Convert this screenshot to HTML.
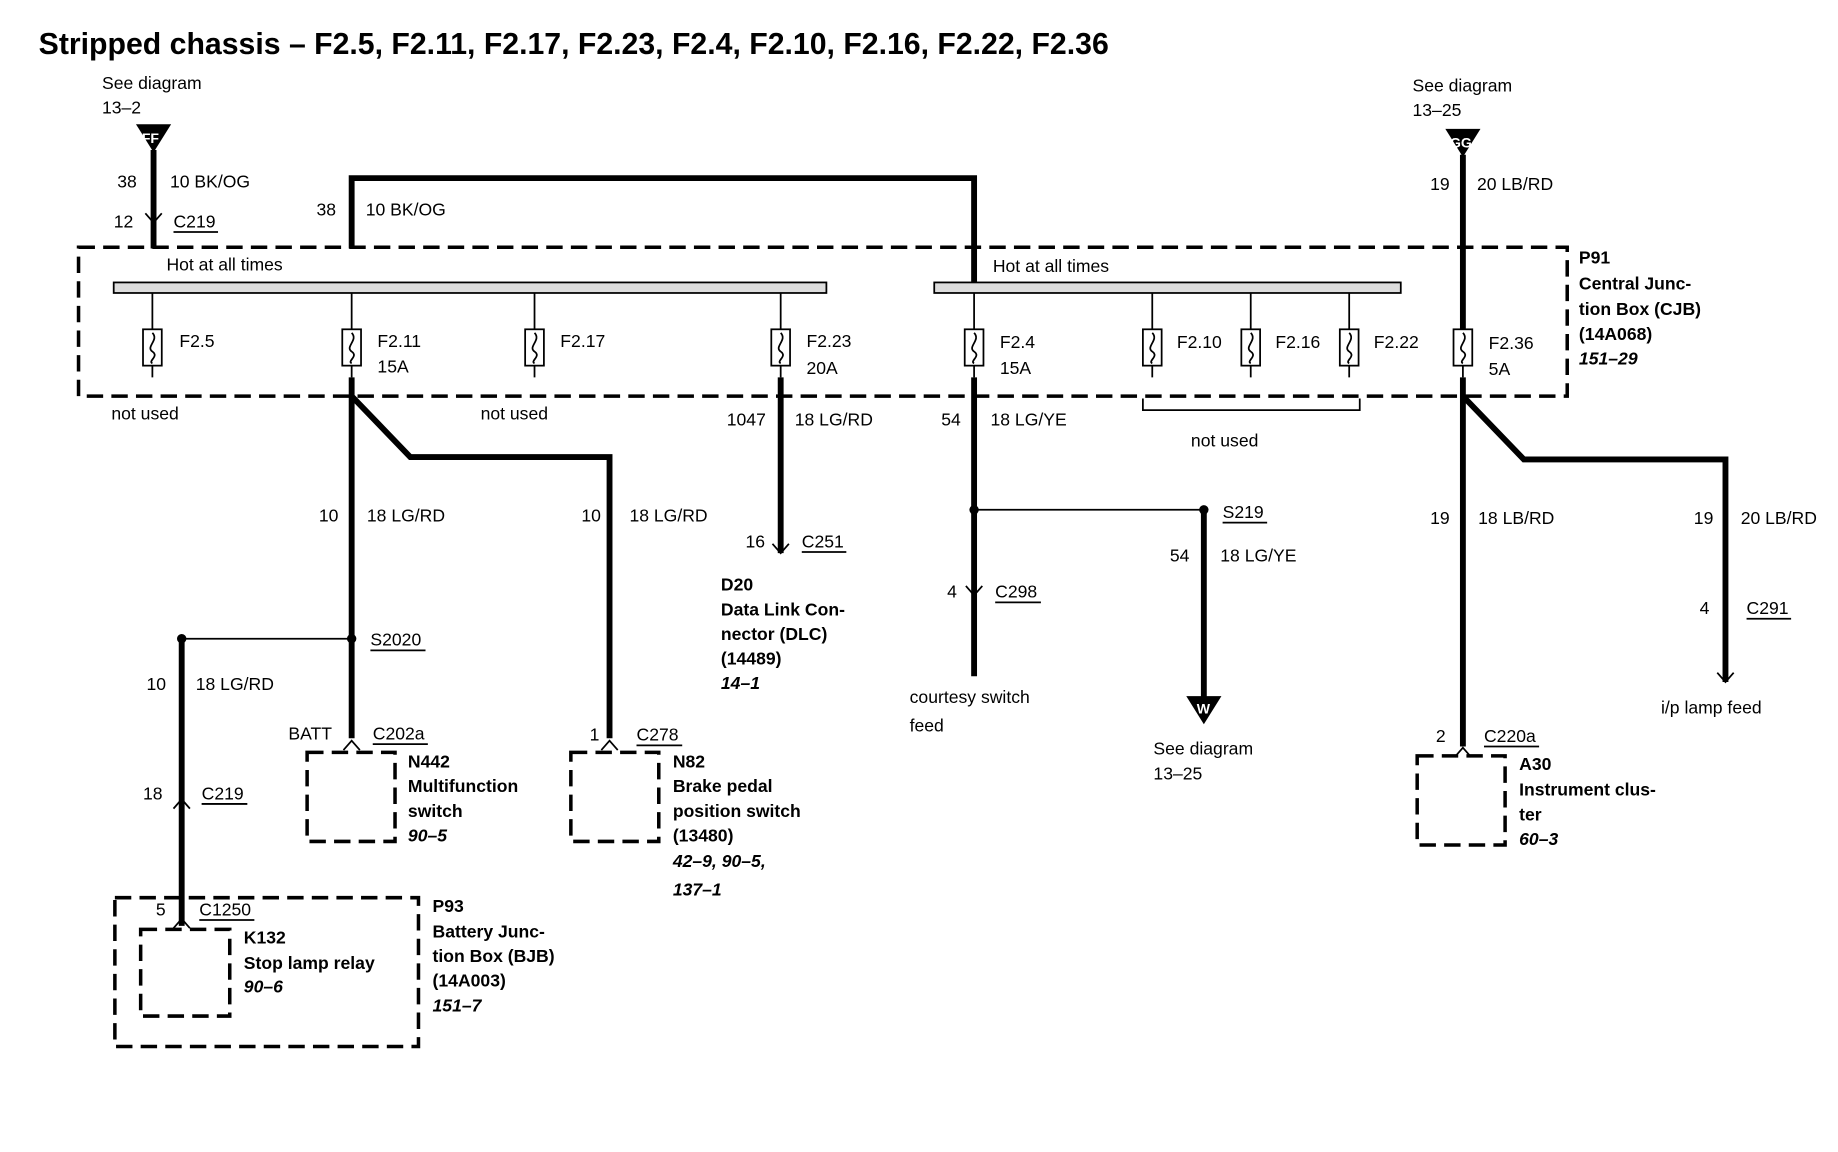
<!DOCTYPE html>
<html><head><meta charset="utf-8"><style>
html,body{margin:0;padding:0;background:#fff;}
svg{display:block;}
text{font-family:"Liberation Sans",Arial,sans-serif;font-size:15px;fill:#000;}
.b{font-weight:bold;}
.i{font-style:italic;font-weight:bold;}
.w{stroke:#000;stroke-width:5;fill:none;}
.t{stroke:#000;stroke-width:1.5;fill:none;}
.d{stroke:#000;stroke-width:3;fill:none;stroke-dasharray:14,7;}
</style></head><body>
<svg width="1838" height="1152" viewBox="0 0 1568 983" preserveAspectRatio="none" xmlns="http://www.w3.org/2000/svg">
<text x="33" y="46" class="b" style="font-size:25.8px">Stripped chassis – F2.5, F2.11, F2.17, F2.23, F2.4, F2.10, F2.16, F2.22, F2.36</text>

<text x="87" y="76">See diagram</text><text x="87" y="97">13–2</text>
<polygon points="116,106 146,106 131,130" fill="#000"/><text x="121" y="122" style="font-size:12px;fill:#fff" class="b">FF</text>
<path class="w" d="M131,128 V212"/>
<text x="100" y="160">38</text><text x="145" y="160">10 BK/OG</text>
<text x="97" y="194">12</text><text x="148" y="194">C219</text><path class="t" d="M148,198 H186"/>
<path class="t" d="M124,182 L131,190 L138,182"/>

<path class="w" d="M300,212 V152 H831 V244"/>
<text x="270" y="184">38</text><text x="312" y="184">10 BK/OG</text>

<text x="1205" y="78">See diagram</text><text x="1205" y="99">13–25</text>
<polygon points="1233,110 1263,110 1248,134" fill="#000"/><text x="1237" y="126" style="font-size:12px;fill:#fff" class="b">GG</text>
<path class="w" d="M1248,132 V282"/>
<text x="1220" y="162">19</text><text x="1260" y="162">20 LB/RD</text>

<rect x="67" y="211" width="1270" height="127" class="d"/>
<text x="1347" y="225" class="b">P91</text><text x="1347" y="247" class="b">Central Junc-</text>
<text x="1347" y="269" class="b">tion Box (CJB)</text><text x="1347" y="290" class="b">(14A068)</text>
<text x="1347" y="311" class="i">151–29</text>

<text x="142" y="231">Hot at all times</text><text x="847" y="232">Hot at all times</text>
<rect x="97" y="241" width="608" height="9" fill="#ddd" stroke="#000" stroke-width="1.5"/>
<rect x="797" y="241" width="398" height="9" fill="#ddd" stroke="#000" stroke-width="1.5"/>

<g>
<g transform="translate(130,0)"><path class="t" d="M0,250V282M0,312V322"/><rect x="-8" y="281" width="16" height="31" fill="#fff" stroke="#000" stroke-width="1.5"/><path class="t" d="M0,284 C6,290 -6,296 0,300 C6,304 -4,308 0,310"/></g>
<g transform="translate(300,0)"><path class="t" d="M0,250V282M0,312V322"/><rect x="-8" y="281" width="16" height="31" fill="#fff" stroke="#000" stroke-width="1.5"/><path class="t" d="M0,284 C6,290 -6,296 0,300 C6,304 -4,308 0,310"/></g>
<g transform="translate(456,0)"><path class="t" d="M0,250V282M0,312V322"/><rect x="-8" y="281" width="16" height="31" fill="#fff" stroke="#000" stroke-width="1.5"/><path class="t" d="M0,284 C6,290 -6,296 0,300 C6,304 -4,308 0,310"/></g>
<g transform="translate(666,0)"><path class="t" d="M0,250V282M0,312V322"/><rect x="-8" y="281" width="16" height="31" fill="#fff" stroke="#000" stroke-width="1.5"/><path class="t" d="M0,284 C6,290 -6,296 0,300 C6,304 -4,308 0,310"/></g>
<g transform="translate(831,0)"><path class="t" d="M0,250V282M0,312V322"/><rect x="-8" y="281" width="16" height="31" fill="#fff" stroke="#000" stroke-width="1.5"/><path class="t" d="M0,284 C6,290 -6,296 0,300 C6,304 -4,308 0,310"/></g>
<g transform="translate(983,0)"><path class="t" d="M0,250V282M0,312V322"/><rect x="-8" y="281" width="16" height="31" fill="#fff" stroke="#000" stroke-width="1.5"/><path class="t" d="M0,284 C6,290 -6,296 0,300 C6,304 -4,308 0,310"/></g>
<g transform="translate(1067,0)"><path class="t" d="M0,250V282M0,312V322"/><rect x="-8" y="281" width="16" height="31" fill="#fff" stroke="#000" stroke-width="1.5"/><path class="t" d="M0,284 C6,290 -6,296 0,300 C6,304 -4,308 0,310"/></g>
<g transform="translate(1151,0)"><path class="t" d="M0,250V282M0,312V322"/><rect x="-8" y="281" width="16" height="31" fill="#fff" stroke="#000" stroke-width="1.5"/><path class="t" d="M0,284 C6,290 -6,296 0,300 C6,304 -4,308 0,310"/></g>
<g transform="translate(1248,0)"><path class="t" d="M0,312V322"/><rect x="-8" y="281" width="16" height="31" fill="#fff" stroke="#000" stroke-width="1.5"/><path class="t" d="M0,284 C6,290 -6,296 0,300 C6,304 -4,308 0,310"/></g>
</g>
<text x="153" y="296">F2.5</text>
<text x="322" y="296">F2.11</text><text x="322" y="318">15A</text>
<text x="478" y="296">F2.17</text>
<text x="688" y="296">F2.23</text><text x="688" y="319">20A</text>
<text x="853" y="297">F2.4</text><text x="853" y="319">15A</text>
<text x="1004" y="297">F2.10</text><text x="1088" y="297">F2.16</text><text x="1172" y="297">F2.22</text>
<text x="1270" y="298">F2.36</text><text x="1270" y="320">5A</text>
<text x="95" y="358">not used</text><text x="410" y="358">not used</text>
<path class="t" d="M975,340 V350 H1160 V340"/><text x="1016" y="381">not used</text>

<path class="w" d="M300,322 V630 M300,338 L350,390 H520 V630"/>
<text x="272" y="445">10</text><text x="313" y="445">18 LG/RD</text>
<text x="496" y="445">10</text><text x="537" y="445">18 LG/RD</text>
<circle cx="300" cy="545" r="4"/><circle cx="155" cy="545" r="4"/>
<path class="t" d="M155,545 H300"/>
<text x="316" y="551">S2020</text><path class="t" d="M316,555 H363"/>
<path class="w" d="M155,545 V790"/>
<text x="125" y="589">10</text><text x="167" y="589">18 LG/RD</text>
<text x="122" y="682">18</text><text x="172" y="682">C219</text><path class="t" d="M172,686 H211"/>
<path class="t" d="M148,690 L155,682 L162,690"/>

<path class="t" d="M293,640 L300,632 L307,640"/><path class="t" d="M513,640 L520,632 L527,640"/>
<text x="246" y="631">BATT</text><text x="318" y="631">C202a</text><path class="t" d="M318,635 H365"/>
<rect x="262" y="642" width="75" height="76" class="d"/>
<text x="348" y="655" class="b">N442</text><text x="348" y="676" class="b">Multifunction</text>
<text x="348" y="697" class="b">switch</text><text x="348" y="718" class="i">90–5</text>
<text x="503" y="632">1</text><text x="543" y="632">C278</text><path class="t" d="M543,636 H582"/>
<rect x="487" y="642" width="75" height="76" class="d"/>
<text x="574" y="655" class="b">N82</text><text x="574" y="676" class="b">Brake pedal</text>
<text x="574" y="697" class="b">position switch</text><text x="574" y="718" class="b">(13480)</text>
<text x="574" y="740" class="i">42–9, 90–5,</text><text x="574" y="764" class="i">137–1</text>

<rect x="98" y="766" width="259" height="127" class="d"/>
<rect x="120" y="793" width="76" height="74" class="d"/>
<path class="t" d="M148,792 L155,784 L162,792"/>
<text x="133" y="781">5</text><text x="170" y="781">C1250</text><path class="t" d="M170,785 H217"/>
<text x="208" y="805" class="b">K132</text><text x="208" y="827" class="b">Stop lamp relay</text>
<text x="208" y="847" class="i">90–6</text>
<text x="369" y="778" class="b">P93</text><text x="369" y="800" class="b">Battery Junc-</text>
<text x="369" y="821" class="b">tion Box (BJB)</text><text x="369" y="842" class="b">(14A003)</text>
<text x="369" y="863" class="i">151–7</text>

<path class="w" d="M666,322 V472"/>
<path class="t" d="M659,464 L666,472 L673,464"/>
<text x="620" y="363">1047</text><text x="678" y="363">18 LG/RD</text>
<text x="636" y="467">16</text><text x="684" y="467">C251</text><path class="t" d="M684,471 H722"/>
<text x="615" y="504" class="b">D20</text><text x="615" y="525" class="b">Data Link Con-</text>
<text x="615" y="546" class="b">nector (DLC)</text><text x="615" y="567" class="b">(14489)</text>
<text x="615" y="588" class="i">14–1</text>

<path class="w" d="M831,322 V577"/>
<path class="t" d="M824,500 L831,508 L838,500"/>
<text x="803" y="363">54</text><text x="845" y="363">18 LG/YE</text>
<circle cx="831" cy="435" r="4"/><circle cx="1027" cy="435" r="4"/>
<path class="t" d="M831,435 H1027"/>
<path class="w" d="M1027,435 V598"/>
<polygon points="1012,594 1042,594 1027,618" fill="#000"/><text x="1021" y="609" style="font-size:12px;fill:#fff" class="b">W</text>
<text x="1043" y="442">S219</text><path class="t" d="M1043,446 H1081"/>
<text x="998" y="479">54</text><text x="1041" y="479">18 LG/YE</text>
<text x="808" y="510">4</text><text x="849" y="510">C298</text><path class="t" d="M849,514 H888"/>
<text x="776" y="600">courtesy switch</text><text x="776" y="624">feed</text>
<text x="984" y="644">See diagram</text><text x="984" y="665">13–25</text>

<path class="w" d="M1248,322 V637 M1248,338 L1300,392 H1472 V582"/>
<path class="t" d="M1241,646 L1248,638 L1255,646"/>
<path class="t" d="M1465,574 L1472,582 L1479,574"/>
<text x="1220" y="447">19</text><text x="1261" y="447">18 LB/RD</text>
<text x="1445" y="447">19</text><text x="1485" y="447">20 LB/RD</text>
<text x="1450" y="524">4</text><text x="1490" y="524">C291</text><path class="t" d="M1490,528 H1528"/>
<text x="1417" y="609">i/p lamp feed</text>
<text x="1225" y="633">2</text><text x="1266" y="633">C220a</text><path class="t" d="M1266,637 H1313"/>
<rect x="1209" y="645" width="75" height="76" class="d"/>
<text x="1296" y="657" class="b">A30</text><text x="1296" y="679" class="b">Instrument clus-</text>
<text x="1296" y="700" class="b">ter</text><text x="1296" y="721" class="i">60–3</text>
</svg>
</body></html>
